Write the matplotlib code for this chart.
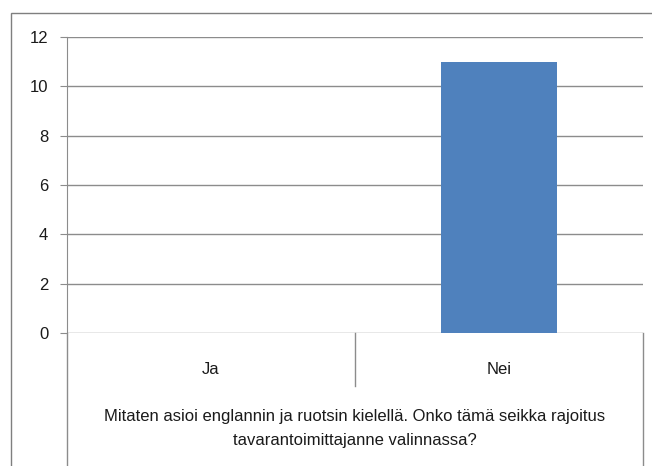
import matplotlib.pyplot as plt
from matplotlib.patches import Rectangle

# Data
categories = ["Ja", "Nei"]
values = [0, 11]
yticks = [0, 2, 4, 6, 8, 10, 12]
title = "Mitaten asioi englannin ja ruotsin kielellä. Onko tämä seikka rajoitus\ntavarantoimittajanne valinnassa?"

plt.rcParams["font.family"] = ["Liberation Sans", "DejaVu Sans"]

W, H = 652, 466
fig = plt.figure(figsize=(W / 100, H / 100), dpi=100)
fig.patch.set_facecolor("white")

# plot area in pixel coords
left, right, top, bottom = 67, 643, 37, 333
ax = fig.add_axes([left / W, 1 - bottom / H, (right - left) / W, (bottom - top) / H])

grid_col = "#8c8c8c"
txt_col = "#1a1a1a"
ax.bar(range(len(categories)), values, width=0.4, color="#4f81bd", zorder=3)
ax.set_xlim(-0.5, 1.5)
ax.set_ylim(0, 12)
ax.set_yticks(yticks)
ax.yaxis.grid(True, color=grid_col, linewidth=1)
ax.set_axisbelow(True)

for s in ["top", "right", "bottom"]:
    ax.spines[s].set_visible(False)
ax.spines["left"].set_color(grid_col)
ax.spines["left"].set_bounds(0, 12)

ax.tick_params(axis="y", length=5, color=grid_col, pad=8.5, labelsize=12, labelcolor=txt_col)
ax.set_xticks(range(len(categories)))
ax.set_xticklabels(categories)
ax.tick_params(axis="x", length=0, pad=21, labelsize=12, labelcolor=txt_col)

# category-axis frame lines (Excel style)
xt = ax.get_xaxis_transform()
ax.plot([-0.5, -0.5], [0, -0.45], transform=xt, color=grid_col, lw=1, clip_on=False)
ax.plot([0.5, 0.5], [0, -0.18], transform=xt, color=grid_col, lw=1, clip_on=False)
ax.plot([1.5, 1.5], [0, -0.45], transform=xt, color=grid_col, lw=1, clip_on=False)

ax.text(0.5, -(428 - top) / (bottom - top) + 1, title, transform=ax.transAxes,
        ha="center", va="center", fontsize=12, linespacing=1.75, color=txt_col)

# outer chart border
fig.patches.append(Rectangle((11 / W, -0.1), 1.2, 1 - 13 / H + 0.1, transform=fig.transFigure,
                             fill=False, edgecolor="#7f7f7f", linewidth=1))

fig.savefig("out.png", dpi=100)
